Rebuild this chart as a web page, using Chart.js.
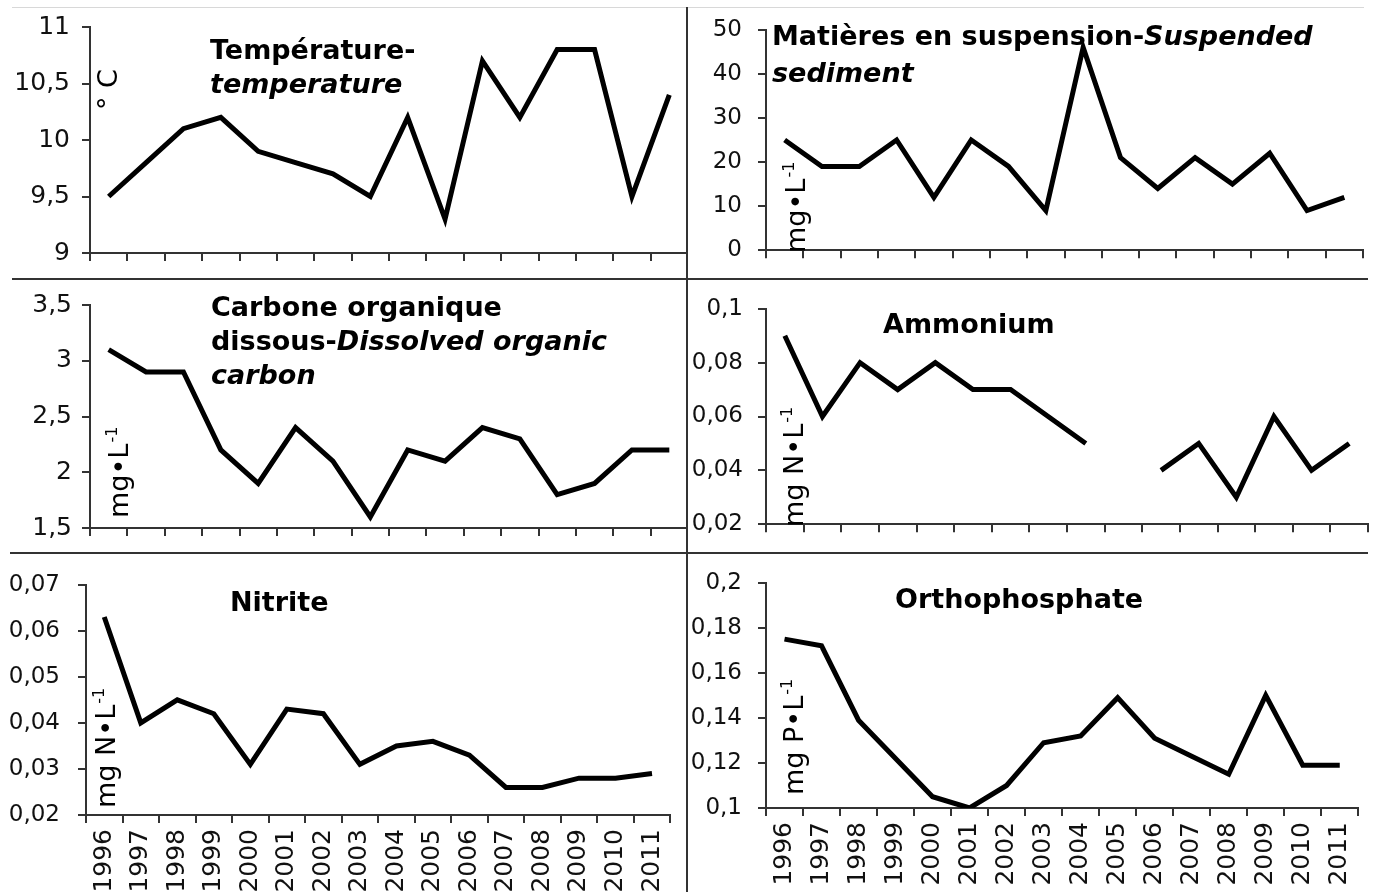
<!DOCTYPE html>
<html><head><meta charset="utf-8">
<script src="https://cdn.jsdelivr.net/npm/chart.js@4.4.0/dist/chart.umd.min.js"></script>
<style>
html,body{margin:0;padding:0;background:#fff;}
body{width:1376px;height:892px;position:relative;overflow:hidden;}
canvas{position:absolute;}
.ln{position:absolute;background:#333;}
</style></head><body>
<canvas id="p1"></canvas><canvas id="p2"></canvas><canvas id="p3"></canvas>
<canvas id="p4"></canvas><canvas id="p5"></canvas><canvas id="p6"></canvas>
<div class="ln" style="left:12px;top:7px;width:1352px;height:1px;background:#d8d8d8"></div>
<div class="ln" style="left:12px;top:278px;width:1356px;height:2px"></div>
<div class="ln" style="left:10px;top:552px;width:1358px;height:2px"></div>
<div class="ln" style="left:686px;top:7px;width:2px;height:885px"></div>
<script>
const years = ['1996','1997','1998','1999','2000','2001','2002','2003','2004','2005','2006','2007','2008','2009','2010','2011'];
const temperature = [9.5, 9.8, 10.1, 10.2, 9.9, 9.8, 9.7, 9.5, 10.2, 9.3, 10.7, 10.2, 10.8, 10.8, 9.5, 10.4];
const suspendedSediment = [25, 19, 19, 25, 12, 25, 19, 9, 46, 21, 14, 21, 15, 22, 9, 12];
const dissolvedOrganicCarbon = [3.1, 2.9, 2.9, 2.2, 1.9, 2.4, 2.1, 1.6, 2.2, 2.1, 2.4, 2.3, 1.8, 1.9, 2.2, 2.2];
const ammonium = [0.09, 0.06, 0.08, 0.07, 0.08, 0.07, 0.07, 0.06, 0.05, null, 0.04, 0.05, 0.03, 0.06, 0.04, 0.05];
const nitrite = [0.063, 0.040, 0.045, 0.042, 0.031, 0.043, 0.042, 0.031, 0.035, 0.036, 0.033, 0.026, 0.026, 0.028, 0.028, 0.029];
const orthophosphate = [0.175, 0.172, 0.139, 0.122, 0.105, 0.100, 0.110, 0.129, 0.132, 0.149, 0.131, 0.123, 0.115, 0.150, 0.119, 0.119];

const FONT = '"DejaVu Sans", "Liberation Sans", Arial, sans-serif';

const panelText = {
  id: 'panelText',
  afterDraw(chart, args, o) {
    const ctx = chart.ctx;
    ctx.save();
    ctx.translate(-o.ox, -o.oy);
    ctx.fillStyle = '#000';
    ctx.textBaseline = 'alphabetic';
    ctx.textAlign = 'left';
    for (const line of o.title) {
      let x = line.x;
      for (const seg of line.segs) {
        ctx.font = (seg[1] ? 'italic ' : '') + 'bold 27px ' + FONT;
        ctx.fillText(seg[0], x, line.y);
        x += ctx.measureText(seg[0]).width;
      }
    }
    const u = o.unit;
    ctx.translate(u.x, u.y);
    ctx.rotate(-Math.PI / 2);
    ctx.font = '27px ' + FONT;
    ctx.fillText(u.text, 0, 0);
    if (u.sup) {
      const w = ctx.measureText(u.text).width;
      ctx.font = '16px ' + FONT;
      ctx.fillText(u.sup, w + 1, -11);
    }
    ctx.restore();
  }
};

function fmt(v) { return parseFloat(Number(v).toFixed(4)).toString().replace('.', ','); }

function makePanel(id, p) {
  const cv = document.getElementById(id);
  cv.width = p.box.w; cv.height = p.box.h;
  cv.style.left = p.box.x + 'px'; cv.style.top = p.box.y + 'px';
  const axisColor = '#333';
  new Chart(cv, {
    type: 'line',
    data: { labels: years, datasets: [{
      data: p.data, borderColor: '#000', borderWidth: 5, pointRadius: 0,
      fill: false, tension: 0, spanGaps: false, borderJoinStyle: 'miter', borderCapStyle: 'butt'
    }]},
    options: {
      responsive: false, animation: false, devicePixelRatio: 1,
      layout: { padding: { left: 0, top: p.area.top - p.box.y, right: (p.box.x + p.box.w) - p.area.right, bottom: 0 } },
      plugins: {
        legend: { display: false }, tooltip: { enabled: false }, title: { display: false },
        panelText: { ox: p.box.x, oy: p.box.y, title: p.title, unit: p.unit }
      },
      scales: {
        x: {
          type: 'category', offset: true,
          grid: { offset: true, drawOnChartArea: false, drawTicks: true, tickLength: 8, color: axisColor, lineWidth: 2 },
          border: { display: true, color: axisColor, width: 2 },
          ticks: { display: !!p.showX, autoSkip: false, minRotation: 90, maxRotation: 90, padding: 6,
                   color: '#111', font: { family: FONT, size: 25 } },
          afterFit: s => { s.height = (p.box.y + p.box.h) - p.area.bottom; }
        },
        y: {
          min: p.min, max: p.max,
          grid: { drawOnChartArea: false, drawTicks: true, tickLength: 8, color: axisColor, lineWidth: 2 },
          border: { display: true, color: axisColor, width: 2 },
          ticks: { stepSize: p.step, padding: p.pad, color: '#111', font: { family: FONT, size: p.fs },
                   callback: v => fmt(v) },
          afterFit: s => { s.width = p.area.left - p.box.x; }
        }
      }
    },
    plugins: [panelText]
  });
}

makePanel('p1', {
  box: { x: 0, y: 0, w: 688, h: 280 }, area: { left: 90, top: 23, right: 688, bottom: 267 },
  data: temperature, min: 9, max: 11, step: 0.5, pad: 12, fs: 25,
  title: [{ x: 210, y: 59, segs: [['Température-', false]] }, { x: 210, y: 93, segs: [['temperature', true]] }],
  unit: { x: 117, y: 110, text: '° C' }
});
makePanel('p2', {
  box: { x: 688, y: 0, w: 688, h: 280 }, area: { left: 766, top: 23, right: 1363, bottom: 265 },
  data: suspendedSediment, min: 0, max: 50, step: 10, pad: 16, fs: 23,
  title: [{ x: 772, y: 45, segs: [['Matières en suspension-', false], ['Suspended', true]] }, { x: 772, y: 82, segs: [['sediment', true]] }],
  unit: { x: 805, y: 253, text: 'mg•L', sup: '-1' }
});
makePanel('p3', {
  box: { x: 0, y: 280, w: 688, h: 273 }, area: { left: 90, top: 295, right: 688, bottom: 535 },
  data: dissolvedOrganicCarbon, min: 1.5, max: 3.5, step: 0.5, pad: 10, fs: 25,
  title: [{ x: 211, y: 316, segs: [['Carbone organique', false]] },
          { x: 211, y: 350, segs: [['dissous-', false], ['Dissolved organic', true]] },
          { x: 211, y: 384, segs: [['carbon', true]] }],
  unit: { x: 128, y: 518, text: 'mg•L', sup: '-1' }
});
makePanel('p4', {
  box: { x: 688, y: 280, w: 688, h: 273 }, area: { left: 766, top: 295, right: 1368, bottom: 537 },
  data: ammonium, min: 0.02, max: 0.1, step: 0.02, pad: 15, fs: 23,
  title: [{ x: 883, y: 333, segs: [['Ammonium', false]] }],
  unit: { x: 803, y: 527, text: 'mg N•L', sup: '-1' }
});
makePanel('p5', {
  box: { x: 0, y: 553, w: 688, h: 339 }, area: { left: 86, top: 568, right: 688, bottom: 815 },
  data: nitrite, min: 0.02, max: 0.07, step: 0.01, pad: 18, fs: 23, showX: true,
  title: [{ x: 230, y: 611, segs: [['Nitrite', false]] }],
  unit: { x: 115, y: 808, text: 'mg N•L', sup: '-1' }
});
makePanel('p6', {
  box: { x: 688, y: 553, w: 688, h: 339 }, area: { left: 766, top: 569, right: 1368, bottom: 808 },
  data: orthophosphate, min: 0.1, max: 0.2, step: 0.02, pad: 16, fs: 23, showX: true,
  title: [{ x: 895, y: 608, segs: [['Orthophosphate', false]] }],
  unit: { x: 803, y: 795, text: 'mg P•L', sup: '-1' }
});
</script>
</body></html>
